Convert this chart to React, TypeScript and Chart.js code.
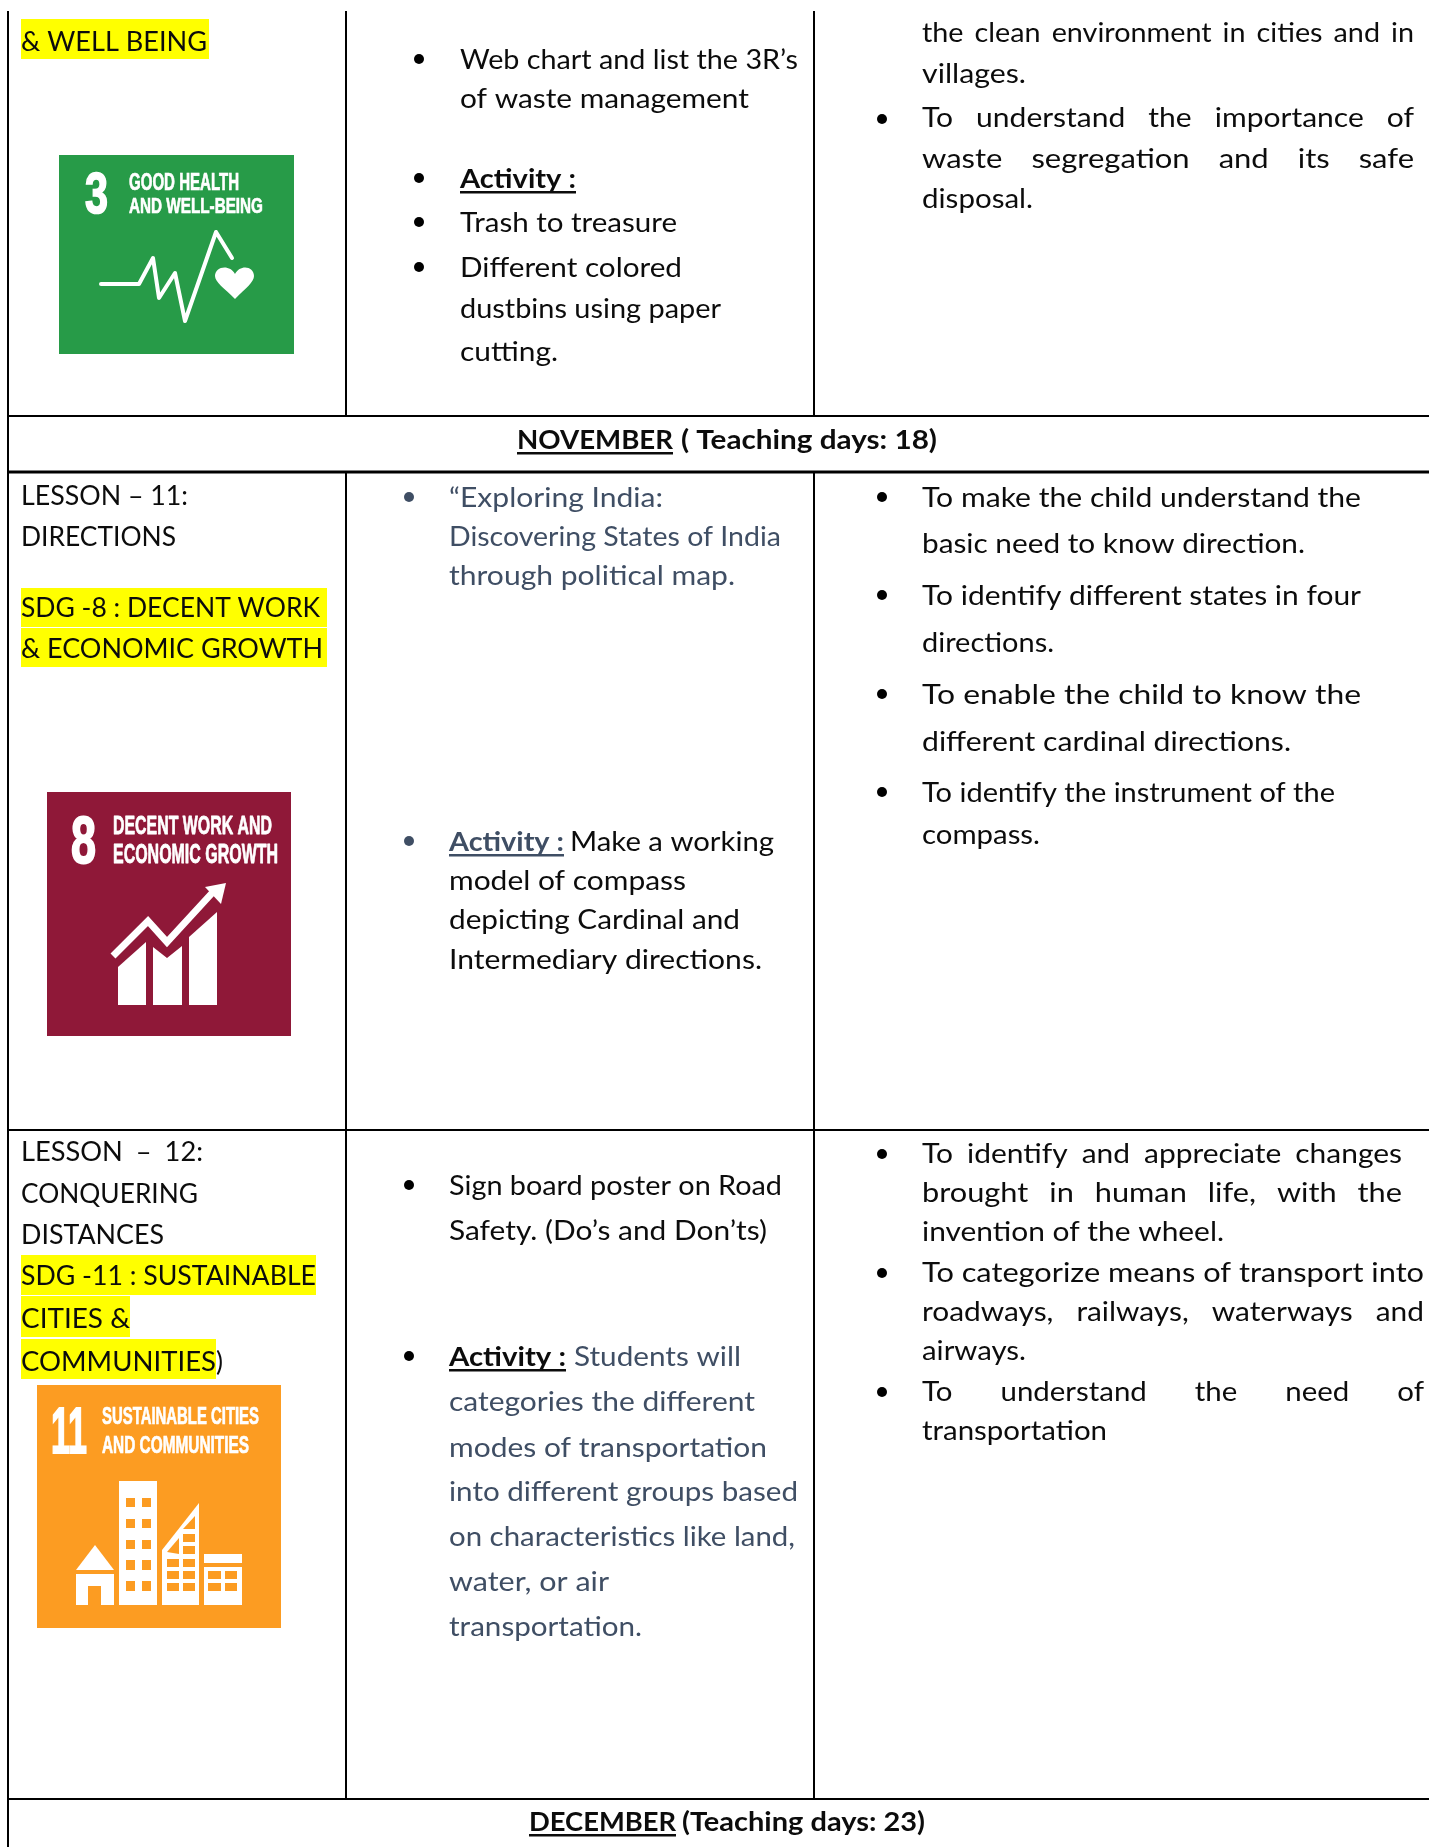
import React, { useEffect, useRef } from "react";
import { Chart, registerables } from "chart.js";

Chart.register(...registerables);

const W = 1429;
const H = 1847;

// ---- Text content ----
const topLesson = ["& WELL BEING"];
const topActivities = ["Web chart and list the 3R’s", "of waste management", "Activity :", "Trash to treasure", "Different colored", "dustbins using paper", "cutting."];
const topOutcomes = ["the clean environment in cities and in", "villages.", "To understand the importance of", "waste segregation and its safe", "disposal."];
const novemberHeader = ["NOVEMBER", "( Teaching days: 18)"];
const lesson11 = ["LESSON – 11:", "DIRECTIONS", "SDG -8 : DECENT WORK", "& ECONOMIC GROWTH"];
const lesson11Activities = ["“Exploring India:", "Discovering States of India", "through political map.", "Activity :", "Make a working", "model of compass", "depicting Cardinal and", "Intermediary directions."];
const lesson11Outcomes = ["To make the child understand the", "basic need to know direction.", "To identify different states in four", "directions.", "To enable the child to know the", "different cardinal directions.", "To identify the instrument of the", "compass."];
const lesson12 = ["LESSON – 12:", "CONQUERING", "DISTANCES", "SDG -11 : SUSTAINABLE", "CITIES &", "COMMUNITIES", ")"];
const lesson12Activities = ["Sign board poster on Road", "Safety. (Do’s and Don’ts)", "Activity :", "Students will", "categories the different", "modes of transportation", "into different groups based", "on characteristics like land,", "water, or air", "transportation."];
const lesson12Outcomes = ["To identify and appreciate changes", "brought in human life, with the", "invention of the wheel.", "To categorize means of transport into", "roadways, railways, waterways and", "airways.", "To understand the need of", "transportation"];
const decemberHeader = ["DECEMBER", "(Teaching days: 23)"];

const BLACK = "#0c0c0c";
const SLATE = "#3F4E64";
const FONT = "Lato";

type Style = { bold?: boolean; under?: boolean; color?: string; gap?: number };
type Run = { t: string; x: number; y: number; r: number } & Style;
const run = (t: string, x: number, y: number, r: number, s: Style = {}): Run => ({ t, x, y: y + 1, r, ...s });

// ---- Layout of the text ----
const COL1 = 21, COL2A = 460, COL2B = 449, COL3 = 922;
const runs: Run[] = [
  run(topLesson[0], COL1, 50, 207),
  run(topActivities[0], COL2A, 68, 798),
  run(topActivities[1], COL2A, 107, 749),
  run(topActivities[2], COL2A, 187, 576, { bold: true, under: true }),
  run(topActivities[3], COL2A, 231, 677),
  run(topActivities[4], COL2A, 276, 682),
  run(topActivities[5], COL2A, 317, 721),
  run(topActivities[6], COL2A, 360, 558),
  run(topOutcomes[0], COL3, 41, 1414, { gap: 11 }),
  run(topOutcomes[1], COL3, 82, 1026),
  run(topOutcomes[2], COL3, 126, 1414, { gap: 23 }),
  run(topOutcomes[3], COL3, 167, 1414, { gap: 29 }),
  run(topOutcomes[4], COL3, 207, 1033),
  run(novemberHeader[0], 517, 448, 673, { bold: true, under: true }),
  run(novemberHeader[1], 681, 448, 937, { bold: true }),
  run(lesson11[0], COL1, 504, 188),
  run(lesson11[1], COL1, 545, 176),
  run(lesson11[2], COL1, 616, 320),
  run(lesson11[3], COL1, 657, 323),
  run(lesson11Activities[0], COL2B, 506, 663, { color: SLATE }),
  run(lesson11Activities[1], COL2B, 545, 781, { color: SLATE }),
  run(lesson11Activities[2], COL2B, 584, 735, { color: SLATE }),
  run(lesson11Activities[3], COL2B, 850, 564, { bold: true, under: true, color: SLATE }),
  run(lesson11Activities[4], 570, 850, 774),
  run(lesson11Activities[5], COL2B, 889, 686),
  run(lesson11Activities[6], COL2B, 928, 740),
  run(lesson11Activities[7], COL2B, 968, 762),
  run(lesson11Outcomes[0], COL3, 506, 1361),
  run(lesson11Outcomes[1], COL3, 552, 1305),
  run(lesson11Outcomes[2], COL3, 604, 1361),
  run(lesson11Outcomes[3], COL3, 651, 1054),
  run(lesson11Outcomes[4], COL3, 703, 1361),
  run(lesson11Outcomes[5], COL3, 750, 1291),
  run(lesson11Outcomes[6], COL3, 801, 1335),
  run(lesson11Outcomes[7], COL3, 843, 1040),
  run(lesson12[0], COL1, 1160, 203, { gap: 13 }),
  run(lesson12[1], COL1, 1202, 198),
  run(lesson12[2], COL1, 1243, 164),
  run(lesson12[3], COL1, 1284, 316),
  run(lesson12[4], COL1, 1327, 130),
  run(lesson12[5], COL1, 1370, 216),
  run(lesson12[6], 216, 1370, 223),
  run(lesson12Activities[0], COL2B, 1194, 782),
  run(lesson12Activities[1], COL2B, 1239, 767),
  run(lesson12Activities[2], COL2B, 1365, 566, { bold: true, under: true }),
  run(lesson12Activities[3], 574, 1365, 741, { color: SLATE }),
  run(lesson12Activities[4], COL2B, 1410, 755, { color: SLATE }),
  run(lesson12Activities[5], COL2B, 1456, 767, { color: SLATE }),
  run(lesson12Activities[6], COL2B, 1500, 798, { color: SLATE }),
  run(lesson12Activities[7], COL2B, 1545, 795, { color: SLATE }),
  run(lesson12Activities[8], COL2B, 1590, 609, { color: SLATE }),
  run(lesson12Activities[9], COL2B, 1635, 642, { color: SLATE }),
  run(lesson12Outcomes[0], COL3, 1162, 1402, { gap: 14 }),
  run(lesson12Outcomes[1], COL3, 1201, 1402, { gap: 21 }),
  run(lesson12Outcomes[2], COL3, 1240, 1224),
  run(lesson12Outcomes[3], COL3, 1281, 1424),
  run(lesson12Outcomes[4], COL3, 1320, 1424, { gap: 23 }),
  run(lesson12Outcomes[5], COL3, 1359, 1026),
  run(lesson12Outcomes[6], COL3, 1400, 1424, { gap: 48 }),
  run(lesson12Outcomes[7], COL3, 1439, 1107),
  run(decemberHeader[0], 529, 1830, 676, { bold: true, under: true }),
  run(decemberHeader[1], 682, 1830, 925, { bold: true }),
];

// ---- Table rules, highlights, bullets ----
const rules: number[][] = [
  [8, 11, 8, H],
  [346, 11, 346, 416],
  [814, 11, 814, 416],
  [346, 472, 346, 1799],
  [814, 472, 814, 1799],
  [8, 416, W, 416],
  [8, 472, W, 472],
  [8, 1130, W, 1130],
  [8, 1799, W, 1799],
];
const highlights: number[][] = [
  [21, 209, 19, 59],
  [21, 327, 588, 627],
  [21, 327, 628, 667],
  [21, 316, 1255, 1295],
  [21, 130, 1296, 1337],
  [21, 216, 1339, 1379],
];
const bullets: { x: number; y: number }[] = [
  { x: 419, y: 59 }, { x: 419, y: 178 }, { x: 419, y: 222 }, { x: 419, y: 267 },
  { x: 882, y: 119 },
  { x: 882, y: 497 }, { x: 882, y: 595 }, { x: 882, y: 694 }, { x: 882, y: 792 },
  { x: 882, y: 1154 }, { x: 882, y: 1273 }, { x: 882, y: 1392 },
  { x: 409, y: 1185 }, { x: 409, y: 1356 },
];
const slateBullets: { x: number; y: number }[] = [{ x: 409, y: 497 }, { x: 409, y: 841 }];

function drawRun(ctx: CanvasRenderingContext2D, r: Run, size = 27, family = FONT) {
  ctx.save();
  ctx.font = `${r.bold ? "bold " : ""}${size}px "${family}"`;
  ctx.fillStyle = r.color || BLACK;
  ctx.textBaseline = "alphabetic";
  const target = r.r - r.x;
  const w = ctx.measureText(r.t).width;
  if (r.gap !== undefined) {
    const words = r.t.split(" ");
    const glyphs = words.reduce((s, word) => s + ctx.measureText(word).width, 0);
    const k = (target - r.gap * (words.length - 1)) / glyphs;
    let x = r.x;
    words.forEach((word) => {
      ctx.save();
      ctx.translate(x, r.y);
      ctx.scale(k, 1);
      ctx.fillText(word, 0, 0);
      ctx.restore();
      x += ctx.measureText(word).width * k + r.gap!;
    });
  } else {
    ctx.translate(r.x, r.y);
    ctx.scale(target / w, 1);
    ctx.fillText(r.t, 0, 0);
  }
  ctx.restore();
  if (r.under) {
    ctx.fillStyle = r.color || BLACK;
    ctx.fillRect(r.x, r.y + 3, target, 2.5);
  }
}

function poly(ctx: CanvasRenderingContext2D, pts: number[][], color: string) {
  ctx.fillStyle = color;
  ctx.beginPath();
  pts.forEach((p, i) => (i ? ctx.lineTo(p[0], p[1]) : ctx.moveTo(p[0], p[1])));
  ctx.closePath();
  ctx.fill();
}
function stroke(ctx: CanvasRenderingContext2D, pts: number[][], width: number, join: CanvasLineJoin = "miter") {
  ctx.strokeStyle = "#fff";
  ctx.lineWidth = width;
  ctx.lineJoin = join;
  ctx.lineCap = join === "round" ? "round" : "butt";
  ctx.beginPath();
  pts.forEach((p, i) => (i ? ctx.lineTo(p[0], p[1]) : ctx.moveTo(p[0], p[1])));
  ctx.stroke();
}
function box(ctx: CanvasRenderingContext2D, x0: number, x1: number, y0: number, y1: number, c: string) {
  ctx.fillStyle = c;
  ctx.fillRect(x0, y0, x1 - x0, y1 - y0);
}
// Fit text into a box so the condensed SDG lettering keeps its size.
function fitText(ctx: CanvasRenderingContext2D, t: string, x0: number, x1: number, top: number, base: number) {
  ctx.save();
  const size = (base - top) / 0.72;
  ctx.font = `bold ${size}px "Liberation Sans"`;
  ctx.fillStyle = "#fff";
  ctx.strokeStyle = "#fff";
  ctx.lineWidth = Math.max(0.5, size * 0.03);
  ctx.textBaseline = "alphabetic";
  const w = ctx.measureText(t).width;
  ctx.translate(x0, base);
  ctx.scale((x1 - x0) / w, 1);
  ctx.fillText(t, 0, 0);
  ctx.strokeText(t, 0, 0);
  ctx.restore();
}

function icon3(ctx: CanvasRenderingContext2D) {
  const G = "#279B48";
  box(ctx, 59, 294, 155, 354, G);
  fitText(ctx, "3", 85, 108, 172, 213);
  fitText(ctx, "GOOD HEALTH", 129, 239, 173, 190);
  fitText(ctx, "AND WELL-BEING", 129, 263, 197, 213);
  stroke(ctx, [[101, 284], [139, 284], [153, 258], [159, 298], [175, 273], [185, 321], [216, 232], [232, 258]], 4, "round");
  ctx.fillStyle = "#fff";
  ctx.beginPath();
  ctx.moveTo(235, 299);
  ctx.bezierCurveTo(224, 288, 215, 282, 215, 276);
  ctx.bezierCurveTo(215, 266, 230, 264, 235, 274);
  ctx.bezierCurveTo(240, 264, 254, 266, 254, 276);
  ctx.bezierCurveTo(254, 282, 246, 288, 235, 299);
  ctx.fill();
}
function icon8(ctx: CanvasRenderingContext2D) {
  const R = "#8F1838";
  box(ctx, 47, 291, 792, 1036, R);
  fitText(ctx, "8", 71, 96, 815, 863);
  fitText(ctx, "DECENT WORK AND", 113, 272, 815, 834);
  fitText(ctx, "ECONOMIC GROWTH", 113, 278, 843, 863);
  stroke(ctx, [[113, 956], [148, 921], [167, 942], [213, 892]], 7);
  poly(ctx, [[205, 887], [226, 883], [221, 904]], "#fff");
  poly(ctx, [[118, 967], [146, 942], [146, 1005], [118, 1005]], "#fff");
  poly(ctx, [[153, 947], [167, 958], [182, 946], [182, 1005], [153, 1005]], "#fff");
  poly(ctx, [[189, 937], [217, 912], [217, 1005], [189, 1005]], "#fff");
}
function icon11(ctx: CanvasRenderingContext2D) {
  const O = "#FC9C22";
  box(ctx, 37, 281, 1385, 1628, O);
  fitText(ctx, "11", 51, 87, 1406, 1453);
  fitText(ctx, "SUSTAINABLE CITIES", 102, 259, 1407, 1424);
  fitText(ctx, "AND COMMUNITIES", 102, 249, 1436, 1453);
  poly(ctx, [[76, 1570], [95, 1545], [114, 1570]], "#fff");
  box(ctx, 76, 114, 1574, 1605, "#fff");
  box(ctx, 88, 101, 1586, 1605, O);
  box(ctx, 119, 157, 1481, 1605, "#fff");
  [[1498, 1507], [1519, 1528], [1540, 1549], [1560, 1570], [1581, 1591]].forEach(([a, b]) => {
    box(ctx, 126, 135, a, b, O);
    box(ctx, 142, 151, a, b, O);
  });
  poly(ctx, [[162, 1550], [199, 1503], [199, 1605], [162, 1605]], "#fff");
  [[1559, 1567], [1571, 1579], [1583, 1591]].forEach(([a, b]) => {
    box(ctx, 167, 179, a, b, O);
    box(ctx, 183, 195, a, b, O);
  });
  box(ctx, 183, 195, 1546, 1554, O);
  box(ctx, 183, 195, 1534, 1542, O);
  poly(ctx, [[167, 1552], [179, 1538], [179, 1554]], O);
  poly(ctx, [[183, 1529], [195, 1516], [195, 1529]], O);
  box(ctx, 204, 242, 1554, 1563, "#fff");
  box(ctx, 204, 242, 1567, 1605, "#fff");
  [[1571, 1579], [1583, 1591]].forEach(([a, b]) => {
    box(ctx, 208, 221, a, b, O);
    box(ctx, 225, 237, a, b, O);
  });
}

const pagePlugin = {
  id: "page",
  afterDatasetsDraw(chart: any) {
    const ctx: CanvasRenderingContext2D = chart.ctx;
    icon3(ctx);
    icon8(ctx);
    icon11(ctx);
    runs.forEach((r) => drawRun(ctx, r));
  },
};

export default function App() {
  const ref = useRef<HTMLCanvasElement>(null);
  useEffect(() => {
    const seg = (a: number[], color: string, width: number) => ({
      type: "line" as const,
      data: [{ x: a[0], y: a[1] }, { x: a[2], y: a[3] }],
      borderColor: color,
      borderWidth: width,
      pointRadius: 0,
      fill: false,
      clip: false as any,
    });
    const datasets: any[] = [
      ...rules.map((r) => seg(r, "#000", r[1] === 472 && r[3] === 472 ? 3 : 2)),
      ...highlights.map((h) => seg([h[0], (h[2] + h[3]) / 2, h[1], (h[2] + h[3]) / 2], "#FFFF00", h[3] - h[2])),
      { type: "scatter", data: bullets, backgroundColor: "#000", borderWidth: 0, pointRadius: 5, clip: false },
      { type: "scatter", data: slateBullets, backgroundColor: SLATE, borderWidth: 0, pointRadius: 5, clip: false },
    ];
    const chart = new Chart(ref.current!, {
      type: "scatter",
      data: { datasets },
      options: {
        responsive: false,
        animation: false,
        events: [],
        layout: { padding: 0, autoPadding: false },
        plugins: { legend: { display: false }, tooltip: { enabled: false } },
        scales: {
          x: { type: "linear", min: 0, max: W, display: false },
          y: { type: "linear", min: 0, max: H, reverse: true, display: false },
        },
      },
      plugins: [pagePlugin],
    } as any);
    return () => chart.destroy();
  }, []);
  return (
    <canvas
      ref={ref}
      width={W}
      height={H}
      style={{ position: "absolute", left: 0, top: 0, width: W, height: H, display: "block", background: "#fff" }}
    />
  );
}
